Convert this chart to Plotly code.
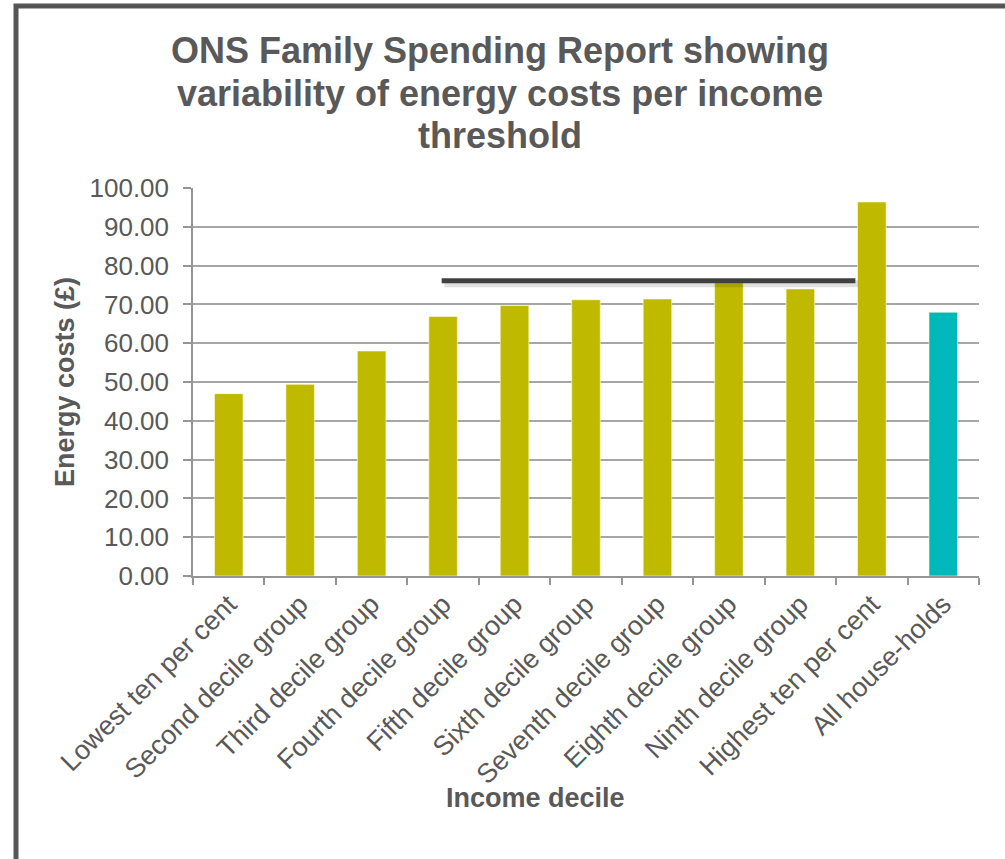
import plotly.graph_objects as go

categories = ["Lowest ten per cent", "Second decile group", "Third decile group",
              "Fourth decile group", "Fifth decile group", "Sixth decile group",
              "Seventh decile group", "Eighth decile group", "Ninth decile group",
              "Highest ten per cent", "All house-holds"]
energy_costs = [47.0, 49.4, 58.0, 66.9, 69.7, 71.2, 71.4, 75.6, 74.0, 96.4, 68.0]
bar_colors = ["#BFBA00"] * 10 + ["#00B8BA"]
y_tick_values = [0, 10, 20, 30, 40, 50, 60, 70, 80, 90, 100]
y_tick_labels = ["0.00", "10.00", "20.00", "30.00", "40.00", "50.00",
                 "60.00", "70.00", "80.00", "90.00", "100.00"]
title_lines = ["ONS Family Spending Report showing",
               "variability of energy costs per income",
               "threshold"]
x_title = "Income decile"
y_title = "Energy costs (£)"

# reference line drawn across the chart
benchmark_value = 76.1
benchmark_start = 2.98
benchmark_end = 8.77

TEXT = "#595959"
FONT = "Liberation Sans, Arial, sans-serif"
W, H = 1005, 859
L, R, T, B = 193, 26, 188, 283
PW, PH = W - L - R, H - T - B


def px_x(x):
    return (x - L) / PW


def px_y(y):
    return (H - B - y) / PH


fig = go.Figure()
fig.add_trace(go.Bar(
    x=categories, y=energy_costs, width=0.4,
    marker=dict(color=bar_colors, line=dict(color="rgba(255,255,220,0.6)", width=1)),
    showlegend=False,
))

annotations = []
for text, yc in zip(title_lines, [51, 93, 135]):
    annotations.append(dict(
        text="<b>" + text + "</b>", xref="paper", yref="paper",
        x=px_x(500), y=px_y(yc), xanchor="center", yanchor="middle",
        showarrow=False, font=dict(family=FONT, size=36, color=TEXT),
    ))
annotations.append(dict(
    text="<b>" + x_title + "</b>", xref="paper", yref="paper",
    x=px_x(535), y=px_y(798), xanchor="center", yanchor="middle",
    showarrow=False, font=dict(family=FONT, size=27, color=TEXT),
))

fig.update_layout(
    width=W, height=H,
    margin=dict(l=L, r=R, t=T, b=B),
    paper_bgcolor="white", plot_bgcolor="white",
    font=dict(family=FONT, color=TEXT),
    annotations=annotations,
)

fig.update_xaxes(
    showline=True, linecolor="#959595", linewidth=1.5,
    ticks="outside", tickson="boundaries", ticklen=7, tickcolor="#959595", tickwidth=1.5,
    tickangle=-45, tickfont=dict(family=FONT, size=27, color=TEXT),
    showgrid=False,
)
fig.update_yaxes(
    range=[0, 100], tickvals=y_tick_values, ticktext=y_tick_labels,
    showline=True, linecolor="#959595", linewidth=1.5,
    ticks="outside", ticklen=8, tickcolor="#959595", tickwidth=1.5,
    ticklabelstandoff=9,
    tickfont=dict(family=FONT, size=26, color=TEXT),
    showgrid=True, gridcolor="#A6A6A6", gridwidth=1.5,
    title=dict(text="<b>" + y_title + "</b>", font=dict(family=FONT, size=27, color=TEXT), standoff=7),
    zeroline=False,
)

# frame: thick top and left border, running off the right and bottom edges
fig.add_shape(type="path", xref="paper", yref="paper",
              path="M {:.5f} {:.5f} L {:.5f} {:.5f} L {:.5f} {:.5f}".format(
                  px_x(16), px_y(H + 20), px_x(16), px_y(6), px_x(W + 20), px_y(6)),
              line=dict(color="#555555", width=5))

# benchmark line with soft shadow
fig.add_shape(type="line", xref="x", yref="y",
              x0=benchmark_start + 0.04, x1=benchmark_end + 0.04,
              y0=benchmark_value - 0.8, y1=benchmark_value - 0.8,
              line=dict(color="rgba(0,0,0,0.12)", width=7))
fig.add_shape(type="line", xref="x", yref="y",
              x0=benchmark_start, x1=benchmark_end,
              y0=benchmark_value, y1=benchmark_value,
              line=dict(color="#404040", width=5))

fig.write_html(
    "out.html",
    config={"displayModeBar": False},
    post_script="document.documentElement.style.overflow='hidden';"
                "document.body.style.overflow='hidden';document.body.style.margin='0';",
)
